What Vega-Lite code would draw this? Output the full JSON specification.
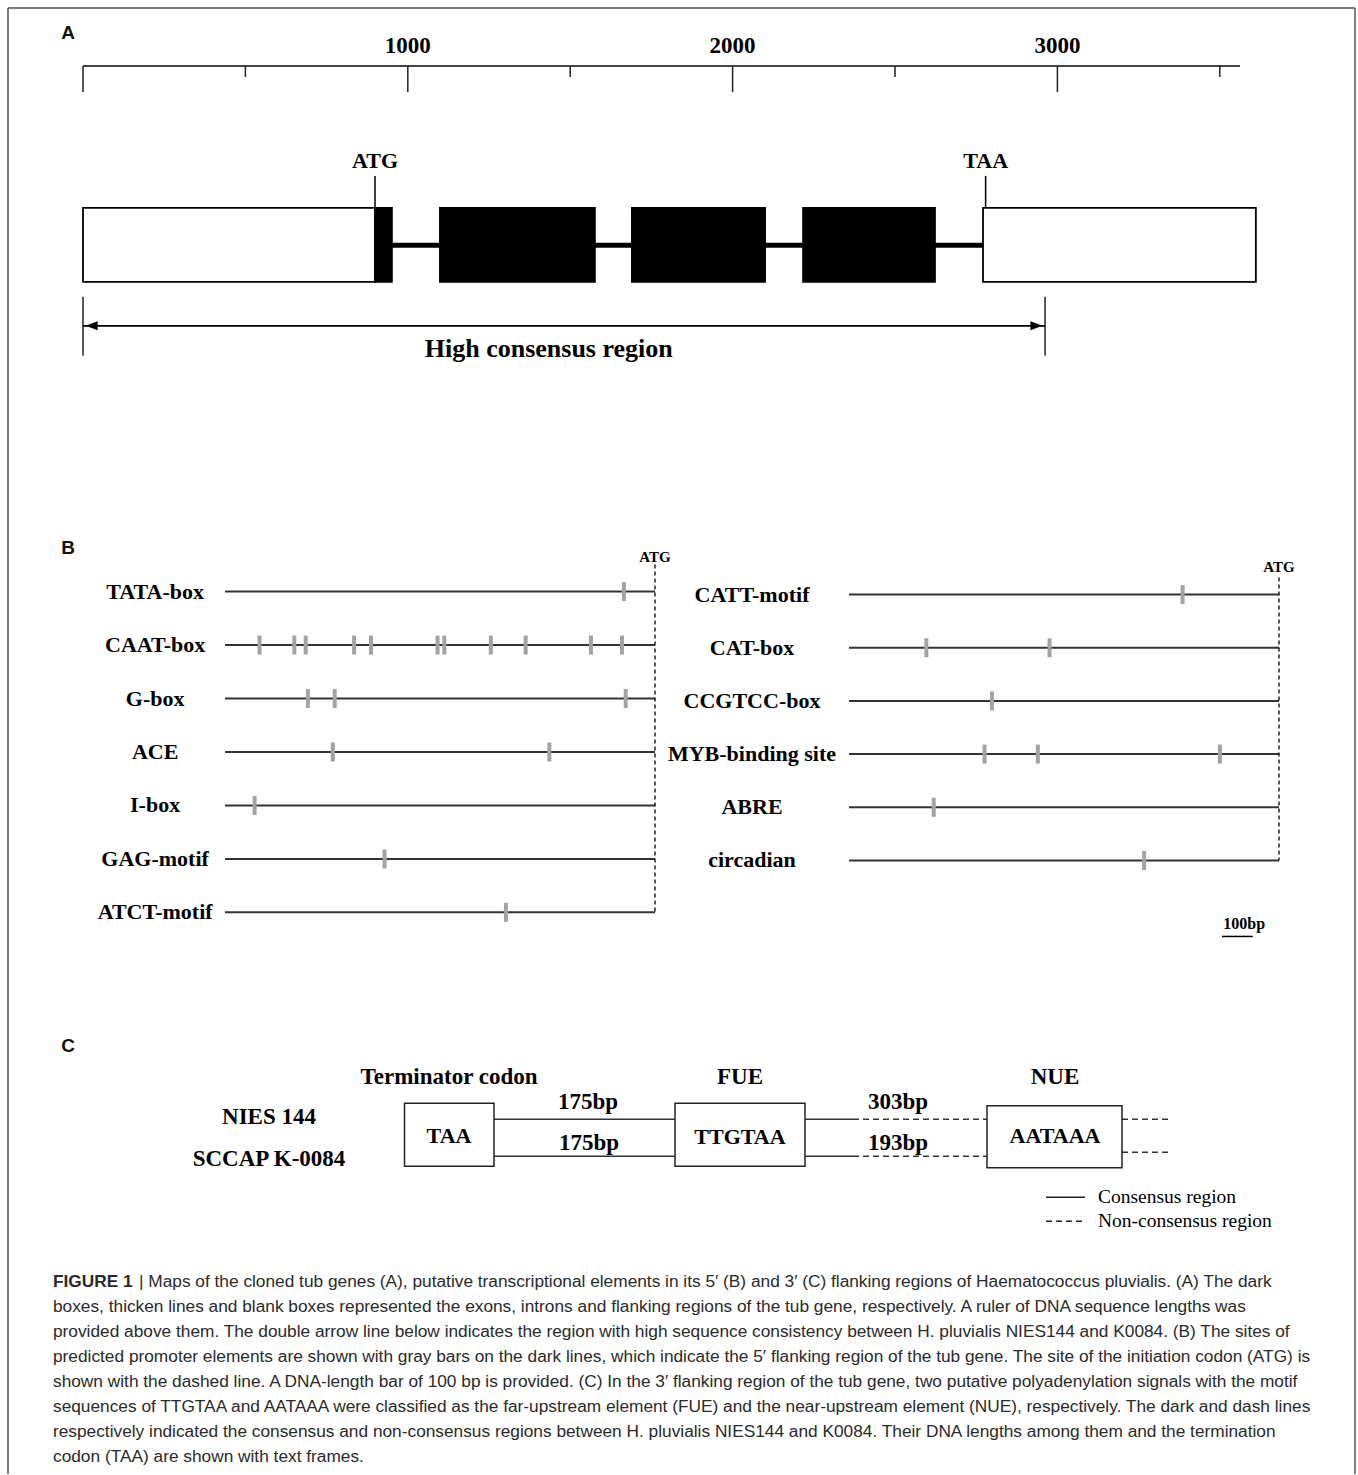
{
"$schema":"https://vega.github.io/schema/vega-lite/v6.json",
"width":1358,"height":1475,
"autosize":{"type":"fit","contains":"padding"},
"padding":0,
"background":"white",
"config":{"view":{"stroke":null},"axis":{"disable":true},"legend":{"disable":true}},
"datasets":{
 "rulerSpan":[{"start":0,"end":3562}],
 "rulerTicks":[{"bp":0,"kind":"major"},{"bp":500,"kind":"minor"},{"bp":1000,"kind":"major","label":"1000"},{"bp":1500,"kind":"minor"},{"bp":2000,"kind":"major","label":"2000"},{"bp":2500,"kind":"minor"},{"bp":3000,"kind":"major","label":"3000"},{"bp":3500,"kind":"minor"}],
 "geneParts":[{"part":"5' flanking region","type":"flank","start":0,"end":899},{"part":"exon 1","type":"exon","start":899,"end":951},{"part":"exon 2","type":"exon","start":1099,"end":1576},{"part":"exon 3","type":"exon","start":1690,"end":2100},{"part":"exon 4","type":"exon","start":2217,"end":2623},{"part":"3' flanking region","type":"flank","start":2771,"end":3611}],
 "introns":[{"start":951,"end":2771}],
 "codons":[{"codon":"ATG","bp":899},{"codon":"TAA","bp":2779}],
 "consensus":[{"region":"High consensus region","start":0,"end":2962}],
 "elementsL":[{"element":"TATA-box","row":1,"from":-1396},{"element":"CAAT-box","row":2,"from":-1396},{"element":"G-box","row":3,"from":-1396},{"element":"ACE","row":4,"from":-1396},{"element":"I-box","row":5,"from":-1396},{"element":"GAG-motif","row":6,"from":-1396},{"element":"ATCT-motif","row":7,"from":-1396}],
 "sitesL":[{"element":"TATA-box","bp":-101},{"element":"CAAT-box","bp":-1284},{"element":"CAAT-box","bp":-1171},{"element":"CAAT-box","bp":-1134},{"element":"CAAT-box","bp":-977},{"element":"CAAT-box","bp":-922},{"element":"CAAT-box","bp":-706},{"element":"CAAT-box","bp":-684},{"element":"CAAT-box","bp":-533},{"element":"CAAT-box","bp":-420},{"element":"CAAT-box","bp":-208},{"element":"CAAT-box","bp":-107},{"element":"G-box","bp":-1127},{"element":"G-box","bp":-1040},{"element":"G-box","bp":-95},{"element":"ACE","bp":-1046},{"element":"ACE","bp":-343},{"element":"I-box","bp":-1300},{"element":"GAG-motif","bp":-878},{"element":"ATCT-motif","bp":-484}],
 "elementsR":[{"element":"CATT-motif","row":1,"from":-1396},{"element":"CAT-box","row":2,"from":-1396},{"element":"CCGTCC-box","row":3,"from":-1396},{"element":"MYB-binding site","row":4,"from":-1396},{"element":"ABRE","row":5,"from":-1396},{"element":"circadian","row":6,"from":-1396}],
 "sitesR":[{"element":"CATT-motif","bp":-313},{"element":"CAT-box","bp":-1145},{"element":"CAT-box","bp":-745},{"element":"CCGTCC-box","bp":-932},{"element":"MYB-binding site","bp":-956},{"element":"MYB-binding site","bp":-783},{"element":"MYB-binding site","bp":-192},{"element":"ABRE","bp":-1121},{"element":"circadian","bp":-438}],
 "scaleBar":[{"label":"100bp","start":-185,"end":-85}],
 "cBoxes":[{"element":"Terminator codon","motif":"TAA","x0":404.5,"x1":494,"cx":449,"y0":1104,"y1":1167,"cy":1137},{"element":"FUE","motif":"TTGTAA","x0":675,"x1":805,"cx":740,"y0":1104,"y1":1167,"cy":1138},{"element":"NUE","motif":"AATAAA","x0":987,"x1":1122,"cx":1055,"y0":1106.5,"y1":1168.5,"cy":1137}],
 "cLinks":[{"strain":"NIES 144","segment":"TAA-FUE","consensus":"consensus","x0":494,"x1":675,"yl":1120},{"strain":"SCCAP K-0084","segment":"TAA-FUE","consensus":"consensus","x0":494,"x1":675,"yl":1157},{"strain":"NIES 144","segment":"FUE-NUE","consensus":"consensus","x0":805,"x1":853,"yl":1120},{"strain":"NIES 144","segment":"FUE-NUE","consensus":"non-consensus","x0":853,"x1":987,"yl":1120},{"strain":"SCCAP K-0084","segment":"FUE-NUE","consensus":"consensus","x0":805,"x1":853,"yl":1157},{"strain":"SCCAP K-0084","segment":"FUE-NUE","consensus":"non-consensus","x0":853,"x1":987,"yl":1157},{"strain":"NIES 144","segment":"downstream","consensus":"non-consensus","x0":1122,"x1":1170,"yl":1120},{"strain":"SCCAP K-0084","segment":"downstream","consensus":"non-consensus","x0":1122,"x1":1172,"yl":1153}],
 "cLengths":[{"strain":"NIES 144","segment":"TAA-FUE","length":"175bp","cx":588,"cy":1103},{"strain":"SCCAP K-0084","segment":"TAA-FUE","length":"175bp","cx":589,"cy":1144},{"strain":"NIES 144","segment":"FUE-NUE","length":"303bp","cx":898,"cy":1103},{"strain":"SCCAP K-0084","segment":"FUE-NUE","length":"193bp","cx":898,"cy":1144}],
 "cStrains":[{"strain":"NIES 144","yl":1118},{"strain":"SCCAP K-0084","yl":1160}],
 "cLegend":[{"consensus":"consensus","label":"Consensus region","yl":1198},{"consensus":"non-consensus","label":"Non-consensus region","yl":1222}],
 "caption":[
  {"line":1,"lead":"FIGURE 1","text":"| Maps of the cloned tub genes (A), putative transcriptional elements in its 5′ (B) and 3′ (C) flanking regions of Haematococcus pluvialis. (A) The dark"},
  {"line":2,"text":"boxes, thicken lines and blank boxes represented the exons, introns and flanking regions of the tub gene, respectively. A ruler of DNA sequence lengths was"},
  {"line":3,"text":"provided above them. The double arrow line below indicates the region with high sequence consistency between H. pluvialis NIES144 and K0084. (B) The sites of"},
  {"line":4,"text":"predicted promoter elements are shown with gray bars on the dark lines, which indicate the 5′ flanking region of the tub gene. The site of the initiation codon (ATG) is"},
  {"line":5,"text":"shown with the dashed line. A DNA-length bar of 100 bp is provided. (C) In the 3′ flanking region of the tub gene, two putative polyadenylation signals with the motif"},
  {"line":6,"text":"sequences of TTGTAA and AATAAA were classified as the far-upstream element (FUE) and the near-upstream element (NUE), respectively. The dark and dash lines"},
  {"line":7,"text":"respectively indicated the consensus and non-consensus regions between H. pluvialis NIES144 and K0084. Their DNA lengths among them and the termination"},
  {"line":8,"text":"codon (TAA) are shown with text frames."}
 ]
},
"resolve":{"scale":{"x":"independent","y":"independent"}},
"layer":[
 {
  "layer":[
   {"data":{"values":[{}]},"mark":{"type":"rule","color":"#555","strokeWidth":1.5},
    "encoding":{"x":{"datum":8,"type":"quantitative","scale":{"domain":[0,1358],"nice":false,"zero":false}},"y":{"datum":8,"type":"quantitative","scale":{"domain":[0,1475],"reverse":true,"nice":false,"zero":false}},"y2":{"datum":1475}}},
   {"data":{"values":[{}]},"mark":{"type":"rule","color":"#555","strokeWidth":1.5},
    "encoding":{"x":{"datum":1355,"type":"quantitative","scale":{"domain":[0,1358],"nice":false,"zero":false}},"y":{"datum":8,"type":"quantitative","scale":{"domain":[0,1475],"reverse":true,"nice":false,"zero":false}},"y2":{"datum":1475}}},
   {"data":{"values":[{}]},"mark":{"type":"rule","color":"#555","strokeWidth":1.5},
    "encoding":{"x":{"datum":8,"type":"quantitative","scale":{"domain":[0,1358],"nice":false,"zero":false}},"x2":{"datum":1355},"y":{"datum":8,"type":"quantitative","scale":{"domain":[0,1475],"reverse":true,"nice":false,"zero":false}}}},
   {"data":{"values":[{"panel":"A"}]},"mark":{"type":"text","font":"Liberation Sans","fontWeight":"bold","fontSize":19,"align":"center","baseline":"middle","color":"#111"},
    "encoding":{"text":{"field":"panel"},"x":{"datum":68,"type":"quantitative","scale":{"domain":[0,1358],"nice":false,"zero":false}},"y":{"datum":33,"type":"quantitative","scale":{"domain":[0,1475],"reverse":true,"nice":false,"zero":false}}}},
   {"data":{"values":[{"panel":"B"}]},"mark":{"type":"text","font":"Liberation Sans","fontWeight":"bold","fontSize":19,"align":"center","baseline":"middle","color":"#111"},
    "encoding":{"text":{"field":"panel"},"x":{"datum":68,"type":"quantitative","scale":{"domain":[0,1358],"nice":false,"zero":false}},"y":{"datum":548,"type":"quantitative","scale":{"domain":[0,1475],"reverse":true,"nice":false,"zero":false}}}},
   {"data":{"values":[{"panel":"C"}]},"mark":{"type":"text","font":"Liberation Sans","fontWeight":"bold","fontSize":19,"align":"center","baseline":"middle","color":"#111"},
    "encoding":{"text":{"field":"panel"},"x":{"datum":68,"type":"quantitative","scale":{"domain":[0,1358],"nice":false,"zero":false}},"y":{"datum":1047,"type":"quantitative","scale":{"domain":[0,1475],"reverse":true,"nice":false,"zero":false}}}},
   {"data":{"name":"cLinks"},"mark":{"type":"rule","color":"#333","strokeWidth":1.5},
    "encoding":{"x":{"field":"x0","type":"quantitative","scale":{"domain":[0,1358],"nice":false,"zero":false}},"x2":{"field":"x1"},"y":{"field":"yl","type":"quantitative","scale":{"domain":[0,1475],"reverse":true,"nice":false,"zero":false}},
     "strokeDash":{"field":"consensus","type":"nominal","scale":{"domain":["consensus","non-consensus"],"range":[[1,0],[6,4]]},"legend":null}}},
   {"data":{"name":"cBoxes"},"mark":{"type":"rect","fill":"white","stroke":"#222","strokeWidth":1.5},
    "encoding":{"x":{"field":"x0","type":"quantitative","scale":{"domain":[0,1358],"nice":false,"zero":false}},"x2":{"field":"x1"},"y":{"field":"y0","type":"quantitative","scale":{"domain":[0,1475],"reverse":true,"nice":false,"zero":false}},"y2":{"field":"y1"}}},
   {"data":{"name":"cBoxes"},"mark":{"type":"text","font":"Liberation Serif","fontWeight":"bold","fontSize":22,"align":"center","baseline":"middle","color":"black"},
    "encoding":{"text":{"field":"motif"},"x":{"field":"cx","type":"quantitative","scale":{"domain":[0,1358],"nice":false,"zero":false}},"y":{"field":"cy","type":"quantitative","scale":{"domain":[0,1475],"reverse":true,"nice":false,"zero":false}}}},
   {"data":{"name":"cBoxes"},"mark":{"type":"text","font":"Liberation Serif","fontWeight":"bold","fontSize":23,"align":"center","baseline":"middle","color":"black"},
    "encoding":{"text":{"field":"element"},"x":{"field":"cx","type":"quantitative","scale":{"domain":[0,1358],"nice":false,"zero":false}},"y":{"datum":1078,"type":"quantitative","scale":{"domain":[0,1475],"reverse":true,"nice":false,"zero":false}}}},
   {"data":{"name":"cStrains"},"mark":{"type":"text","font":"Liberation Serif","fontWeight":"bold","fontSize":23,"align":"center","baseline":"middle","color":"black"},
    "encoding":{"text":{"field":"strain"},"x":{"datum":269,"type":"quantitative","scale":{"domain":[0,1358],"nice":false,"zero":false}},"y":{"field":"yl","type":"quantitative","scale":{"domain":[0,1475],"reverse":true,"nice":false,"zero":false}}}},
   {"data":{"name":"cLengths"},"mark":{"type":"text","font":"Liberation Serif","fontWeight":"bold","fontSize":23,"align":"center","baseline":"middle","color":"black"},
    "encoding":{"text":{"field":"length"},"x":{"field":"cx","type":"quantitative","scale":{"domain":[0,1358],"nice":false,"zero":false}},"y":{"field":"cy","type":"quantitative","scale":{"domain":[0,1475],"reverse":true,"nice":false,"zero":false}}}},
   {"data":{"name":"cLegend"},"mark":{"type":"rule","color":"#222","strokeWidth":1.5},
    "encoding":{"x":{"datum":1046,"type":"quantitative","scale":{"domain":[0,1358],"nice":false,"zero":false}},"x2":{"datum":1085},"y":{"field":"yl","type":"quantitative","scale":{"domain":[0,1475],"reverse":true,"nice":false,"zero":false}},
     "strokeDash":{"field":"consensus","type":"nominal","scale":{"domain":["consensus","non-consensus"],"range":[[1,0],[6,4]]},"legend":null}}},
   {"data":{"name":"cLegend"},"mark":{"type":"text","font":"Liberation Serif","fontSize":19.5,"align":"left","baseline":"middle","color":"black"},
    "encoding":{"text":{"field":"label"},"x":{"datum":1098,"type":"quantitative","scale":{"domain":[0,1358],"nice":false,"zero":false}},"y":{"field":"yl","type":"quantitative","scale":{"domain":[0,1475],"reverse":true,"nice":false,"zero":false}}}}
  ]
 },
 {
  "layer":[
   {"data":{"name":"rulerSpan"},"mark":{"type":"rule","color":"#444","strokeWidth":2},
    "encoding":{"x":{"field":"start","type":"quantitative","scale":{"domain":[-255.54,3925.49],"nice":false,"zero":false}},"x2":{"field":"end"},"y":{"datum":66,"type":"quantitative","scale":{"domain":[0,1475],"reverse":true,"nice":false,"zero":false}}}},
   {"data":{"name":"rulerTicks"},"transform":[{"filter":"datum.kind == 'major'"}],"mark":{"type":"rule","color":"#222","strokeWidth":1.5},
    "encoding":{"x":{"field":"bp","type":"quantitative","scale":{"domain":[-255.54,3925.49],"nice":false,"zero":false}},"y":{"datum":66,"type":"quantitative","scale":{"domain":[0,1475],"reverse":true,"nice":false,"zero":false}},"y2":{"datum":92}}},
   {"data":{"name":"rulerTicks"},"transform":[{"filter":"datum.kind == 'minor'"}],"mark":{"type":"rule","color":"#222","strokeWidth":1.5},
    "encoding":{"x":{"field":"bp","type":"quantitative","scale":{"domain":[-255.54,3925.49],"nice":false,"zero":false}},"y":{"datum":66,"type":"quantitative","scale":{"domain":[0,1475],"reverse":true,"nice":false,"zero":false}},"y2":{"datum":77}}},
   {"data":{"name":"rulerTicks"},"transform":[{"filter":"datum.label"}],"mark":{"type":"text","font":"Liberation Serif","fontWeight":"bold","fontSize":23,"align":"center","baseline":"middle","color":"black"},
    "encoding":{"text":{"field":"label"},"x":{"field":"bp","type":"quantitative","scale":{"domain":[-255.54,3925.49],"nice":false,"zero":false}},"y":{"datum":46,"type":"quantitative","scale":{"domain":[0,1475],"reverse":true,"nice":false,"zero":false}}}},
   {"data":{"name":"introns"},"mark":{"type":"rule","color":"black","strokeWidth":5},
    "encoding":{"x":{"field":"start","type":"quantitative","scale":{"domain":[-255.54,3925.49],"nice":false,"zero":false}},"x2":{"field":"end"},"y":{"datum":245.5,"type":"quantitative","scale":{"domain":[0,1475],"reverse":true,"nice":false,"zero":false}}}},
   {"data":{"name":"geneParts"},"mark":{"type":"rect","stroke":"black","strokeWidth":1.8},
    "encoding":{"x":{"field":"start","type":"quantitative","scale":{"domain":[-255.54,3925.49],"nice":false,"zero":false}},"x2":{"field":"end"},"y":{"datum":208,"type":"quantitative","scale":{"domain":[0,1475],"reverse":true,"nice":false,"zero":false}},"y2":{"datum":282},
     "fill":{"field":"type","type":"nominal","scale":{"domain":["flank","exon"],"range":["white","black"]},"legend":null}}},
   {"data":{"name":"codons"},"mark":{"type":"rule","color":"black","strokeWidth":1.5},
    "encoding":{"x":{"field":"bp","type":"quantitative","scale":{"domain":[-255.54,3925.49],"nice":false,"zero":false}},"y":{"datum":176,"type":"quantitative","scale":{"domain":[0,1475],"reverse":true,"nice":false,"zero":false}},"y2":{"datum":208}}},
   {"data":{"name":"codons"},"mark":{"type":"text","font":"Liberation Serif","fontWeight":"bold","fontSize":22,"align":"center","baseline":"middle","color":"black"},
    "encoding":{"text":{"field":"codon"},"x":{"field":"bp","type":"quantitative","scale":{"domain":[-255.54,3925.49],"nice":false,"zero":false}},"y":{"datum":161,"type":"quantitative","scale":{"domain":[0,1475],"reverse":true,"nice":false,"zero":false}}}},
   {"data":{"name":"consensus"},"mark":{"type":"rule","color":"black","strokeWidth":1.8},
    "encoding":{"x":{"field":"start","type":"quantitative","scale":{"domain":[-255.54,3925.49],"nice":false,"zero":false}},"x2":{"field":"end"},"y":{"datum":326,"type":"quantitative","scale":{"domain":[0,1475],"reverse":true,"nice":false,"zero":false}}}},
   {"data":{"name":"consensus"},"transform":[{"fold":["start","end"],"as":["edge","pos"]}],"mark":{"type":"rule","color":"black","strokeWidth":1.3},
    "encoding":{"x":{"field":"pos","type":"quantitative","scale":{"domain":[-255.54,3925.49],"nice":false,"zero":false}},"y":{"datum":297,"type":"quantitative","scale":{"domain":[0,1475],"reverse":true,"nice":false,"zero":false}},"y2":{"datum":356}}},
   {"data":{"name":"consensus"},"mark":{"type":"point","filled":true,"color":"black","opacity":1,"size":225,"strokeWidth":0,"shape":"M0.35,0L1.95,-0.6L1.95,0.6Z"},
    "encoding":{"x":{"field":"start","type":"quantitative","scale":{"domain":[-255.54,3925.49],"nice":false,"zero":false}},"y":{"datum":326,"type":"quantitative","scale":{"domain":[0,1475],"reverse":true,"nice":false,"zero":false}}}},
   {"data":{"name":"consensus"},"mark":{"type":"point","filled":true,"color":"black","opacity":1,"size":225,"strokeWidth":0,"shape":"M-0.35,0L-1.95,-0.6L-1.95,0.6Z"},
    "encoding":{"x":{"field":"end","type":"quantitative","scale":{"domain":[-255.54,3925.49],"nice":false,"zero":false}},"y":{"datum":326,"type":"quantitative","scale":{"domain":[0,1475],"reverse":true,"nice":false,"zero":false}}}},
   {"data":{"name":"consensus"},"mark":{"type":"text","font":"Liberation Serif","fontWeight":"bold","fontSize":26,"align":"center","baseline":"middle","color":"black"},
    "encoding":{"text":{"field":"region"},"x":{"datum":1434,"type":"quantitative","scale":{"domain":[-255.54,3925.49],"nice":false,"zero":false}},"y":{"datum":349,"type":"quantitative","scale":{"domain":[0,1475],"reverse":true,"nice":false,"zero":false}}}}
  ]
 },
 {
  "layer":[
   {"data":{"name":"elementsL"},"mark":{"type":"rule","color":"#333","strokeWidth":2},
    "encoding":{"x":{"field":"from","type":"quantitative","scale":{"domain":[-2126.62,2282.47],"nice":false,"zero":false}},"x2":{"datum":0},"y":{"field":"row","type":"quantitative","scale":{"domain":[-10.065,17.505],"reverse":true,"nice":false,"zero":false}}}},
   {"data":{"name":"sitesL"},"transform":[{"lookup":"element","from":{"data":{"name":"elementsL"},"key":"element","fields":["row"]}}],"mark":{"type":"tick","orient":"vertical","color":"#a3a3a3","size":19,"thickness":4,"opacity":1},
    "encoding":{"x":{"field":"bp","type":"quantitative","scale":{"domain":[-2126.62,2282.47],"nice":false,"zero":false}},"y":{"field":"row","type":"quantitative","scale":{"domain":[-10.065,17.505],"reverse":true,"nice":false,"zero":false}}}},
   {"data":{"name":"elementsL"},"mark":{"type":"text","font":"Liberation Serif","fontWeight":"bold","fontSize":22,"align":"center","baseline":"middle","color":"black"},
    "encoding":{"text":{"field":"element"},"x":{"datum":-1623,"type":"quantitative","scale":{"domain":[-2126.62,2282.47],"nice":false,"zero":false}},"y":{"field":"row","type":"quantitative","scale":{"domain":[-10.065,17.505],"reverse":true,"nice":false,"zero":false}}}},
   {"data":{"values":[{}]},"mark":{"type":"rule","color":"black","strokeWidth":1.3,"strokeDash":[4,3]},
    "encoding":{"x":{"datum":0,"type":"quantitative","scale":{"domain":[-2126.62,2282.47],"nice":false,"zero":false}},"y":{"datum":0.495,"type":"quantitative","scale":{"domain":[-10.065,17.505],"reverse":true,"nice":false,"zero":false}},"y2":{"datum":7}}},
   {"data":{"values":[{"codon":"ATG"}]},"mark":{"type":"text","font":"Liberation Serif","fontWeight":"bold","fontSize":15,"align":"center","baseline":"middle","color":"black"},
    "encoding":{"text":{"field":"codon"},"x":{"datum":0,"type":"quantitative","scale":{"domain":[-2126.62,2282.47],"nice":false,"zero":false}},"y":{"datum":0.346,"type":"quantitative","scale":{"domain":[-10.065,17.505],"reverse":true,"nice":false,"zero":false}}}}
  ]
 },
 {
  "layer":[
   {"data":{"name":"elementsR"},"mark":{"type":"rule","color":"#333","strokeWidth":2},
    "encoding":{"x":{"field":"from","type":"quantitative","scale":{"domain":[-4152.6,256.49],"nice":false,"zero":false}},"x2":{"datum":0},"y":{"field":"row","type":"quantitative","scale":{"domain":[-10.184,17.541],"reverse":true,"nice":false,"zero":false}}}},
   {"data":{"name":"sitesR"},"transform":[{"lookup":"element","from":{"data":{"name":"elementsR"},"key":"element","fields":["row"]}}],"mark":{"type":"tick","orient":"vertical","color":"#a3a3a3","size":19,"thickness":4,"opacity":1},
    "encoding":{"x":{"field":"bp","type":"quantitative","scale":{"domain":[-4152.6,256.49],"nice":false,"zero":false}},"y":{"field":"row","type":"quantitative","scale":{"domain":[-10.184,17.541],"reverse":true,"nice":false,"zero":false}}}},
   {"data":{"name":"elementsR"},"mark":{"type":"text","font":"Liberation Serif","fontWeight":"bold","fontSize":22,"align":"center","baseline":"middle","color":"black"},
    "encoding":{"text":{"field":"element"},"x":{"datum":-1711,"type":"quantitative","scale":{"domain":[-4152.6,256.49],"nice":false,"zero":false}},"y":{"field":"row","type":"quantitative","scale":{"domain":[-10.184,17.541],"reverse":true,"nice":false,"zero":false}}}},
   {"data":{"values":[{}]},"mark":{"type":"rule","color":"black","strokeWidth":1.3,"strokeDash":[4,3]},
    "encoding":{"x":{"datum":0,"type":"quantitative","scale":{"domain":[-4152.6,256.49],"nice":false,"zero":false}},"y":{"datum":0.68,"type":"quantitative","scale":{"domain":[-10.184,17.541],"reverse":true,"nice":false,"zero":false}},"y2":{"datum":6}}},
   {"data":{"values":[{"codon":"ATG"}]},"mark":{"type":"text","font":"Liberation Serif","fontWeight":"bold","fontSize":15,"align":"center","baseline":"middle","color":"black"},
    "encoding":{"text":{"field":"codon"},"x":{"datum":0,"type":"quantitative","scale":{"domain":[-4152.6,256.49],"nice":false,"zero":false}},"y":{"datum":0.474,"type":"quantitative","scale":{"domain":[-10.184,17.541],"reverse":true,"nice":false,"zero":false}}}},
   {"data":{"name":"scaleBar"},"mark":{"type":"rule","color":"black","strokeWidth":1.5},
    "encoding":{"x":{"field":"start","type":"quantitative","scale":{"domain":[-4152.6,256.49],"nice":false,"zero":false}},"x2":{"field":"end"},"y":{"datum":7.43,"type":"quantitative","scale":{"domain":[-10.184,17.541],"reverse":true,"nice":false,"zero":false}}}},
   {"data":{"name":"scaleBar"},"mark":{"type":"text","font":"Liberation Serif","fontWeight":"bold","fontSize":16,"align":"center","baseline":"middle","color":"black"},
    "encoding":{"text":{"field":"label"},"x":{"datum":-113,"type":"quantitative","scale":{"domain":[-4152.6,256.49],"nice":false,"zero":false}},"y":{"datum":7.2,"type":"quantitative","scale":{"domain":[-10.184,17.541],"reverse":true,"nice":false,"zero":false}}}}
  ]
 },
 {
  "data":{"name":"caption"},
  "layer":[
   {"transform":[{"filter":"datum.line == 1"}],"mark":{"type":"text","font":"Liberation Sans","fontWeight":"bold","fontSize":17.3,"align":"left","baseline":"middle","color":"#2a2a2a"},
    "encoding":{"text":{"field":"lead"},"x":{"datum":53,"type":"quantitative","scale":{"domain":[0,1358],"nice":false,"zero":false}},"y":{"field":"line","type":"quantitative","scale":{"domain":[-50.32,8.68],"reverse":true,"nice":false,"zero":false}}}},
   {"transform":[{"filter":"datum.line == 1"}],"mark":{"type":"text","font":"Liberation Sans","fontSize":17.3,"align":"left","baseline":"middle","color":"#2a2a2a"},
    "encoding":{"text":{"field":"text"},"x":{"datum":139,"type":"quantitative","scale":{"domain":[0,1358],"nice":false,"zero":false}},"y":{"field":"line","type":"quantitative","scale":{"domain":[-50.32,8.68],"reverse":true,"nice":false,"zero":false}}}},
   {"transform":[{"filter":"datum.line > 1"}],"mark":{"type":"text","font":"Liberation Sans","fontSize":17.3,"align":"left","baseline":"middle","color":"#2a2a2a"},
    "encoding":{"text":{"field":"text"},"x":{"datum":53,"type":"quantitative","scale":{"domain":[0,1358],"nice":false,"zero":false}},"y":{"field":"line","type":"quantitative","scale":{"domain":[-50.32,8.68],"reverse":true,"nice":false,"zero":false}}}}
  ]
 }
]
}
